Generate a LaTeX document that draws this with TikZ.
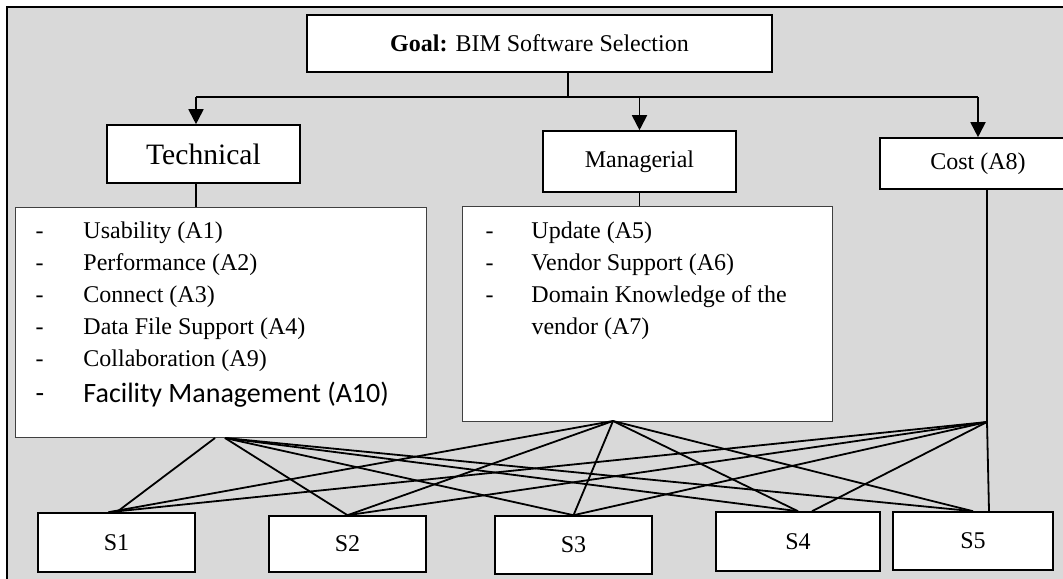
\documentclass[tikz,border=0pt]{standalone}
\usepackage{fontspec}
\setmainfont{Liberation Serif}
\newfontfamily\calibri{Carlito}
\usepackage{tikz}
\usetikzlibrary{arrows.meta}
\definecolor{framec}{HTML}{D9D9D9}
\definecolor{listc}{HTML}{404040}
\newcommand{\itm}[2][24pt]{\makebox[#1][l]{-}#2\par}
\tikzset{
  crit/.style={draw, fill=white, line width=0.8pt, inner sep=0pt},
  listbox/.style={draw=listc, fill=white, line width=0.5pt, inner sep=0pt, anchor=north west},
  link/.style={line width=0.9pt},
  feed/.style={line width=0.9pt, -{Triangle[length=7.5pt,width=7.5pt]}},
}
\begin{document}
\begin{tikzpicture}[x=0.5pt, y=-0.5pt, font=\fontsize{12}{14}\selectfont]
  \useasboundingbox (0,0) rectangle (1063,578);
  \clip (0,0) rectangle (1063,578);
  \draw[fill=framec, line width=1.1pt] (7,7) rectangle (1080,595);
  \node[crit, minimum width=232.5pt, minimum height=28.5pt] (goal) at (539.5,43.5) {\textbf{Goal:} BIM Software Selection};
  \node[crit, minimum width=96.5pt, minimum height=29pt, font=\fontsize{14.8}{17}\selectfont] (tech) at (203.5,154) {Technical};
  \node[crit, minimum width=96.5pt, minimum height=30.5pt] (mgr) at (639.5,161.5) {Managerial};
  \node[crit, minimum width=98pt, minimum height=25.5pt] (cost) at (978,163.5) {Cost (A8)};
  \node[listbox] (tlist) at (15,207) {\parbox[c][115pt][t]{205.5pt}{\fontsize{12}{16}\selectfont\leftskip=10pt
    \rule{0pt}{15.5pt}\itm{Usability (A1)}
    \itm{Performance (A2)}
    \itm{Connect (A3)}
    \itm{Data File Support (A4)}
    \itm{Collaboration (A9)}
    {\fontsize{14}{18}\selectfont\calibri\itm{Facility Management (A10)}}}};
  \node[listbox] (mlist) at (462,206) {\parbox[c][107.5pt][t]{185pt}{\fontsize{12}{16}\selectfont\leftskip=11.5pt
    \rule{0pt}{16pt}\itm[23pt]{Update (A5)}
    \itm[23pt]{Vendor Support (A6)}
    \itm[23pt]{Domain Knowledge of the}
    \hspace*{23pt}vendor (A7)\par}};
  \foreach \n/\x/\y/\w/\h in {1/116.5/542.5/78.5pt/29.5pt, 2/347.5/544/78.5pt/28pt, 3/573.5/545/78.5pt/29pt, 4/798/541.5/82pt/29.5pt, 5/973/541/80pt/29pt}
    \node[crit, minimum width=\w, minimum height=\h] (s\n) at (\x,\y) {S\n};
  \coordinate (tb) at (196,97);
  \coordinate (stem) at (568,97);
  \coordinate (tl) at (215,438);
  \coordinate (tr) at (225,438);
  \coordinate (mj) at (613,421);
  \coordinate (cj) at (987,422);
  \draw[link] (stem |- goal.south) -- (stem);
  \draw[link] (tb) -- (cost.north |- tb);
  \draw[feed] (tb) -- (tb |- tech.north);
  \draw[feed] (mgr.north |- tb) -- (mgr.north);
  \draw[feed] (cost.north |- tb) -- (cost.north);
  \draw[link] (tb |- tech.south) -- (tb |- tlist.north);
  \draw[link] (mgr.south) -- (mgr.south |- mlist.north);
  \draw[link] (cj |- cost.south) -- (cj);
  \draw[link] (tl) -- (s1.north);
  \foreach \s in {2,...,5}
    \draw[link] (tr) -- (s\s.north);
  \foreach \s/\d in {1/-4pt,2/0pt,3/0pt,4/0pt,5/0pt}
    \draw[link] (mj) -- ([xshift=\d]s\s.north);
  \foreach \s/\d in {1/-4pt,2/0pt,3/0pt,4/7pt,5/8pt}
    \draw[link] (cj) -- ([xshift=\d]s\s.north);
\end{tikzpicture}
\end{document}
